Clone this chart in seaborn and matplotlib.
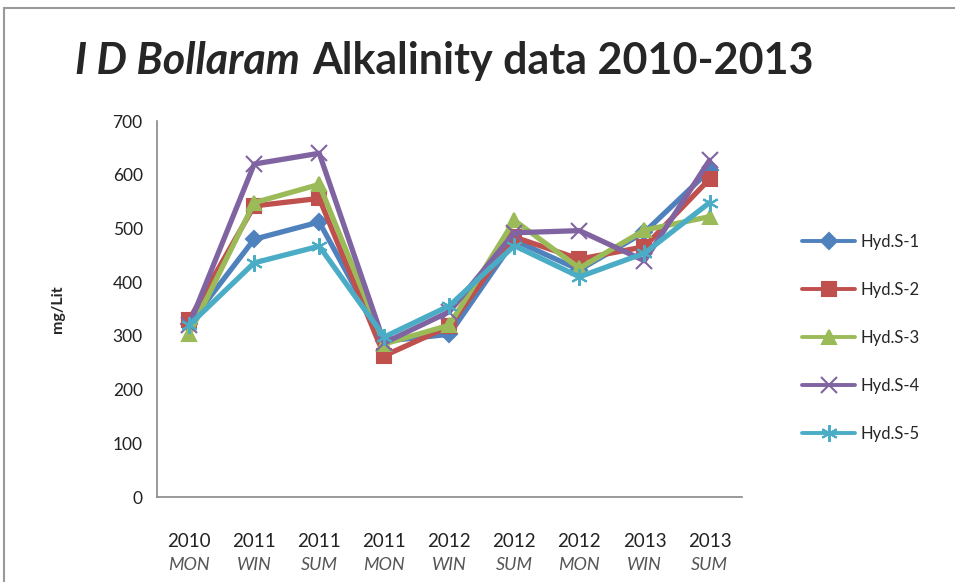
import pandas as pd
import numpy as np
import matplotlib
matplotlib.use('Agg')
import matplotlib.pyplot as plt
import seaborn as sns

# categorias do eixo x
anos = ['2010', '2011', '2011', '2011', '2012', '2012', '2012', '2013', '2013']
estacoes = ['MON', 'WIN', 'SUM', 'MON', 'WIN', 'SUM', 'MON', 'WIN', 'SUM']

# valores (mg/Lit)
hyd_s1 = [322, 480, 512, 290, 303, 478, 423, 493, 608]
hyd_s2 = [330, 542, 556, 263, 318, 484, 443, 466, 592]
hyd_s3 = [303, 548, 582, 285, 320, 515, 426, 497, 522]
hyd_s4 = [320, 620, 640, 287, 345, 492, 496, 440, 627]
hyd_s5 = [320, 436, 467, 298, 356, 468, 410, 454, 548]

series = ['Hyd.S-1', 'Hyd.S-2', 'Hyd.S-3', 'Hyd.S-4', 'Hyd.S-5']
valores = [hyd_s1, hyd_s2, hyd_s3, hyd_s4, hyd_s5]
cores = ['#4F81BD', '#C0504D', '#9BBB59', '#8064A2', '#4BACC6']
marcadores = ['D', 's', '^', 'x', (6, 2, 0)]
tam_marc = [8, 10, 10, 12, 12]

categorias = [f'{a} {e}' for a, e in zip(anos, estacoes)]
tabela = pd.DataFrame({
    'cat': categorias * len(series),
    'valor': np.concatenate(valores),
    'serie': np.repeat(series, len(categorias)),
})

sns.set_style('white')
plt.rcParams['font.family'] = ['Lato', 'DejaVu Sans']

fig = plt.figure(figsize=(9.55, 5.82), dpi=100)
ax = fig.add_axes([0.164, 0.146, 0.613, 0.646])

for s, c, m, ms in zip(series, cores, marcadores, tam_marc):
    sub = tabela[tabela['serie'] == s]
    sns.lineplot(data=sub, x='cat', y='valor', ax=ax, color=c, linewidth=3.8,
                 marker=m, markersize=ms, markeredgecolor=c, markeredgewidth=1.5,
                 label=s, sort=False)

ax.set_xlim(-0.5, len(categorias) - 0.5)
ax.set_ylim(0, 700)
ax.set_yticks(range(0, 701, 100))
ax.tick_params(axis='y', labelsize=12.5, length=0, pad=10, colors='#222222')
ax.set_xticks(range(len(categorias)))
ax.set_xticklabels(anos, fontsize=13.5, color='#222222')
ax.tick_params(axis='x', length=0, pad=26)
for i, e in enumerate(estacoes):
    ax.text(i, -0.181, e, transform=ax.get_xaxis_transform(), ha='center', va='center',
            fontsize=13, style='italic', color='#555555')

ax.set_xlabel('')
ax.set_ylabel('mg/Lit', fontsize=11.5, fontweight='bold', labelpad=34)
for lado in ['top', 'right']:
    ax.spines[lado].set_visible(False)
for lado in ['left', 'bottom']:
    ax.spines[lado].set_color('#888888')
    ax.spines[lado].set_linewidth(1.2)

leg = ax.legend(loc='center left', bbox_to_anchor=(1.077, 0.423), frameon=False,
                fontsize=12, labelspacing=1.92, handlelength=3.2, handletextpad=0.3)
for h in leg.legend_handles:
    h.set_linewidth(2.8)

# titulo com parte em italico
t1 = fig.text(0.079, 0.896, 'I D Bollaram', fontsize=31, fontweight='bold',
              style='italic', ha='left', va='center')
fig.canvas.draw()
bb = t1.get_window_extent()
x2 = fig.transFigure.inverted().transform((bb.x1 + 12, 0))[0]
fig.text(x2, 0.896, 'Alkalinity data 2010-2013', fontsize=31, fontweight='bold',
         ha='left', va='center')

# moldura do grafico
fig.patches.append(plt.Rectangle((0.004, -0.01), 1.2, 0.996, transform=fig.transFigure,
                                 fill=False, edgecolor='#999999', linewidth=1.5))

fig.savefig('out.png', dpi=100)
